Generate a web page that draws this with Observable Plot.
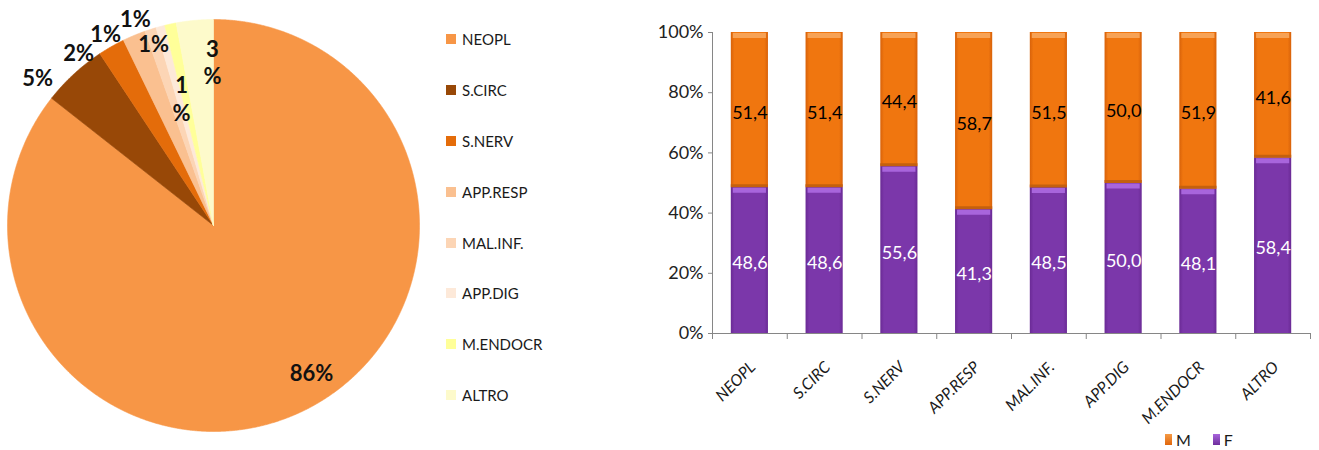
<!DOCTYPE html>
<html>
<head>
<meta charset="utf-8">
<script src="https://cdn.jsdelivr.net/npm/d3@7"></script>
<script src="https://cdn.jsdelivr.net/npm/@observablehq/plot@0.6"></script>
<style>
  body { margin: 0; background: #fff; }
  #wrap { position: relative; width: 1319px; height: 450px; overflow: hidden; font-family: Lato, "Open Sans", sans-serif; }
  #pie, #bar, #legend, #barLegend { position: absolute; }
  #pie { left: 0; top: 0; }
  #bar { left: 640px; top: 0; }
  #legend { left: 446px; top: 13.5px; }
  .lrow { height: 50.9px; display: flex; align-items: center; font-size: 15px; color: #1a1a1a; }
  .lsw { width: 10px; height: 10px; margin-right: 6px; }
  #barLegend { left: 1165px; top: 430px; display: flex; align-items: center; font-size: 16px; color: #1a1a1a; }
  .bsw { width: 7px; height: 11px; margin-right: 4px; }
</style>
</head>
<body>
<div id="wrap">
  <div id="pie"></div>
  <div id="legend"></div>
  <div id="bar"></div>
  <div id="barLegend"></div>
</div>
<script>
// ---------- data ----------
const pieCats = ["NEOPL", "S.CIRC", "S.NERV", "APP.RESP", "MAL.INF.", "APP.DIG", "M.ENDOCR", "ALTRO"];
const pieValues = [85.6, 5.1, 2.1, 1.8, 0.9, 0.7, 0.9, 2.9];
const pieLabels = ["86%", "5%", "2%", "1%", "1%", "1%", "1\n%", "3\n%"];
const pieColors = ["#F79646", "#984807", "#E46C0A", "#FAC090", "#FCD5B5", "#FDE9D9", "#FFFF99", "#FDFACB"];

const barCats = ["NEOPL", "S.CIRC", "S.NERV", "APP.RESP", "MAL.INF.", "APP.DIG", "M.ENDOCR", "ALTRO"];
const femaleValues = [48.6, 48.6, 55.6, 41.3, 48.5, 50.0, 48.1, 58.4];
const maleValues = [51.4, 51.4, 44.4, 58.7, 51.5, 50.0, 51.9, 41.6];
const sexes = ["M", "F"];
const yTicks = [0, 20, 40, 60, 80, 100];

// ---------- layout (label placement in pie units: radius = 1) ----------
const pieLabelXY = [[0.476, -0.714], [-0.854, 0.718], [-0.655, 0.840], [-0.524, 0.932],
                    [-0.379, 1.005], [-0.291, 0.883], [-0.155, 0.617], [-0.005, 0.796]];

// ---------- pie ----------
const arcs = d3.pie().sort(null).value(d => d)(pieValues);
const piePts = [];
arcs.forEach((a, i) => {
  const cat = pieCats[i];
  piePts.push({cat, x: 0, y: 0});
  const n = Math.max(2, Math.ceil((a.endAngle - a.startAngle) / 0.004) + 1);
  for (let k = 0; k < n; k++) {
    const t = a.startAngle + (a.endAngle - a.startAngle) * k / (n - 1);
    piePts.push({cat, x: Math.sin(t), y: Math.cos(t)});
  }
  piePts.push({cat, x: 0, y: 0});
});
const R = 206, CX = 213, CY = 225, PW = 640, PH = 450;
const pieLabelData = pieLabels.map((t, i) => ({text: t, x: pieLabelXY[i][0], y: pieLabelXY[i][1]}));

const pie = Plot.plot({
  width: PW, height: PH, margin: 0,
  x: {domain: [-CX / R, (PW - CX) / R], axis: null},
  y: {domain: [-(PH - CY) / R, CY / R], axis: null},
  color: {domain: pieCats, range: pieColors},
  style: {background: "transparent"},
  marks: [
    Plot.line(piePts, {x: "x", y: "y", z: "cat", fill: "cat", stroke: "cat", strokeWidth: 0.6, curve: "linear"}),
    Plot.text(pieLabelData, {x: "x", y: "y", text: "text", fontSize: 22, fontWeight: "bold",
      fill: "#111", lineHeight: 1.25, fontFamily: "Lato, sans-serif"})
  ]
});
document.getElementById("pie").append(pie);

const leg = document.getElementById("legend");
pieCats.forEach((c, i) => {
  const row = document.createElement("div");
  row.className = "lrow";
  row.innerHTML = `<div class="lsw" style="background:${pieColors[i]}"></div><span>${c}</span>`;
  leg.append(row);
});

// ---------- stacked bars ----------
const rows = [];
barCats.forEach((c, i) => rows.push({idx: i, cat: c, sex: "F", value: femaleValues[i], base: 0}));
barCats.forEach((c, i) => rows.push({idx: i, cat: c, sex: "M", value: maleValues[i], base: femaleValues[i]}));
const fRows = rows.filter(d => d.sex === "F");
const mRows = rows.filter(d => d.sex === "M");

const defs = () => {
  const g = d3.create("svg:defs");
  const mk = (id, edge, mid) => {
    const lg = g.append("linearGradient").attr("id", id).attr("x1", 0).attr("x2", 1).attr("y1", 0).attr("y2", 0);
    [[0, edge], [0.1, mid], [0.9, mid], [1, edge]].forEach(([o, c]) =>
      lg.append("stop").attr("offset", o).attr("stop-color", c));
  };
  mk("gM", "#D8620A", "#F0760F");
  mk("gF", "#6A2A95", "#7B37AA");
  return g.node();
};

const inset = 18.8;
const bar = Plot.plot({
  width: 679, height: 450,
  marginLeft: 72, marginRight: 9, marginTop: 32, marginBottom: 117,
  x: {domain: [0, barCats.length], axis: null, label: null},
  y: {domain: [0, 100], axis: null, label: null},
  style: {background: "transparent", fontFamily: "Lato, sans-serif"},
  marks: [
    defs,
    Plot.rectY(fRows, {x1: "idx", x2: d => d.idx + 1, y1: "base", y2: d => d.base + d.value,
      fill: "url(#gF)", insetLeft: inset, insetRight: inset}),
    Plot.rectY(mRows, {x1: "idx", x2: d => d.idx + 1, y1: "base", y2: d => d.base + d.value,
      fill: "url(#gM)", insetLeft: inset, insetRight: inset}),
    // bevel highlights
    Plot.ruleY(mRows, {y: d => d.base + d.value, x1: "idx", x2: d => d.idx + 1, insetLeft: inset + 2, insetRight: inset + 2,
      stroke: "#F7A255", strokeWidth: 5, dy: 3}),
    Plot.ruleY(mRows, {y: "base", x1: "idx", x2: d => d.idx + 1, insetLeft: inset, insetRight: inset,
      stroke: "#C4600E", strokeWidth: 3, dy: -1.5}),
    Plot.ruleY(fRows, {y: d => d.base + d.value, x1: "idx", x2: d => d.idx + 1, insetLeft: inset + 2, insetRight: inset + 2,
      stroke: "#A865DC", strokeWidth: 5, dy: 3}),
    // values
    Plot.text(fRows, {x: d => d.idx + 0.5, y: d => d.base + d.value / 2, text: d => d.value.toFixed(1).replace(".", ","),
      fill: "white", fontSize: 18, dy: 3}),
    Plot.text(mRows, {x: d => d.idx + 0.5, y: d => d.base + d.value / 2, text: d => d.value.toFixed(1).replace(".", ","),
      fill: "black", fontSize: 18, dy: 3}),
    // axes
    Plot.ruleX([0], {stroke: "#868686"}),
    Plot.ruleY([0], {stroke: "#868686"}),
    Plot.axisY(yTicks, {tickFormat: d => d + "%", tickSize: 4, stroke: "#868686", fill: "#222", fontSize: 18, tickPadding: 5, label: null}),
    Plot.axisX(d3.range(barCats.length + 1), {tickFormat: () => "", tickSize: 6, stroke: "#868686", label: null}),
    Plot.text(barCats, {x: (d, i) => i + 0.5, y: 0, text: d => d, rotate: -45, textAnchor: "end",
      fontStyle: "italic", fontSize: 16, fill: "#1a1a1a", dx: 3, dy: 31})
  ]
});
document.getElementById("bar").append(bar);

const bl = document.getElementById("barLegend");
bl.innerHTML = `<div class="bsw" style="background:linear-gradient(#F59A45,#E0660C)"></div><span style="margin-right:22px">M</span>` +
               `<div class="bsw" style="background:linear-gradient(#A865DC,#6E2E9C)"></div><span>F</span>`;
</script>
</body>
</html>
